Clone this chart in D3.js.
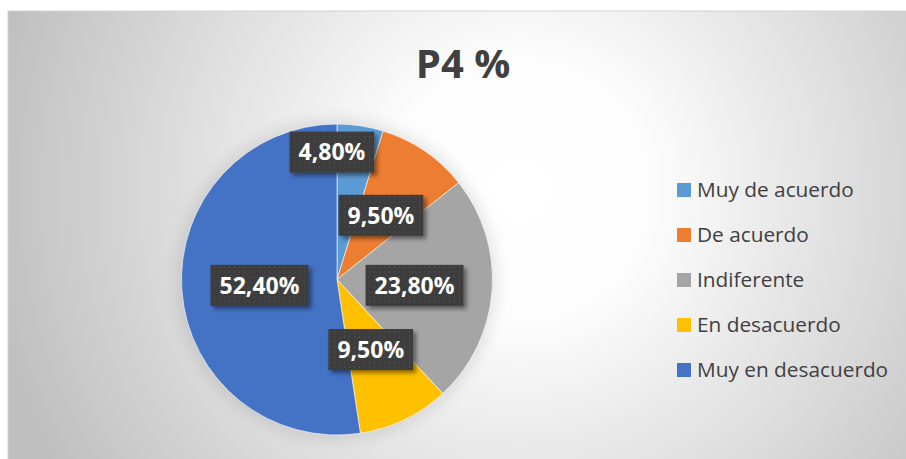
<!DOCTYPE html>
<html><head><meta charset="utf-8">
<script src="https://cdn.jsdelivr.net/npm/d3@7/dist/d3.min.js"></script>
<style>html,body{margin:0;padding:0;background:#fff;}svg{display:block;}</style>
</head><body>
<svg id="chart" width="906" height="459"></svg>
<script>
const title = "P4 %";
const categories = ["Muy de acuerdo", "De acuerdo", "Indiferente", "En desacuerdo", "Muy en desacuerdo"];
const values = [4.8, 9.5, 23.8, 9.5, 52.4];
const labels = ["4,80%", "9,50%", "23,80%", "9,50%", "52,40%"];
const colors = ["#5B9BD5", "#ED7D31", "#A5A5A5", "#FFC000", "#4472C4"];

const W = 906, H = 459;
const svg = d3.select("#chart");
const defs = svg.append("defs");

// panel background radial gradient
const rg = defs.append("radialGradient").attr("id", "bg")
  .attr("gradientUnits", "userSpaceOnUse")
  .attr("cx", 520).attr("cy", 190).attr("r", 540);
rg.append("stop").attr("offset", "0%").attr("stop-color", "#ffffff");
rg.append("stop").attr("offset", "25%").attr("stop-color", "#fcfcfc");
rg.append("stop").attr("offset", "100%").attr("stop-color", "#bfbfbf");

// dotted dark pattern for data labels
const pat = defs.append("pattern").attr("id", "dots")
  .attr("patternUnits", "userSpaceOnUse").attr("width", 5).attr("height", 5);
pat.append("rect").attr("width", 5).attr("height", 5).attr("fill", "#3d3d3d");
pat.append("rect").attr("x", 2).attr("y", 2).attr("width", 1).attr("height", 1).attr("fill", "#5a5a5a");

const sh = defs.append("filter").attr("id", "shadow")
  .attr("x", "-30%").attr("y", "-30%").attr("width", "160%").attr("height", "160%");
sh.append("feDropShadow").attr("dx", 3).attr("dy", 3).attr("stdDeviation", 2)
  .attr("flood-color", "#000").attr("flood-opacity", 0.45);

const glow = defs.append("filter").attr("id", "glow")
  .attr("x", "-20%").attr("y", "-20%").attr("width", "140%").attr("height", "140%");
glow.append("feGaussianBlur").attr("stdDeviation", 8);

// panel
svg.append("rect").attr("x", 8).attr("y", 11).attr("width", W).attr("height", H)
  .attr("fill", "url(#bg)").attr("stroke", "#d4d4d4").attr("stroke-width", 1);

// title
svg.append("text").attr("x", 463).attr("y", 78)
  .attr("text-anchor", "middle")
  .attr("font-family", "'Open Sans', 'Noto Sans', sans-serif")
  .attr("font-weight", 700).attr("font-size", 40)
  .attr("fill", "#404040").text(title);

// pie
const cx = 337, cy = 279.5, R = 155.5;
const pie = d3.pie().sort(null).value(d => d)(values);
const arc = d3.arc().innerRadius(0).outerRadius(R);
const g = svg.append("g").attr("transform", `translate(${cx},${cy})`);

g.append("circle").attr("r", R + 4).attr("fill", "#000").attr("opacity", 0.1)
  .attr("filter", "url(#glow)");

g.selectAll("path.slice").data(pie).join("path").attr("class", "slice")
  .attr("d", arc).attr("fill", (d, i) => colors[i])
  .attr("stroke", "#ffffff").attr("stroke-width", 0.6);

// labels
const fontSize = 23;
const boxes = [];
const labelG = g.append("g");
const tmp = labelG.append("text").attr("font-family", "'Open Sans', 'Noto Sans', sans-serif")
  .attr("font-weight", 700).attr("font-size", fontSize);
const measured = labels.map(t => { tmp.text(t); return tmp.node().getComputedTextLength(); });
tmp.remove();

function overlaps(a, b) {
  return a.x < b.x + b.w && b.x < a.x + a.w && a.y < b.y + b.h && b.y < a.y + a.h;
}
const order = pie.map((d, i) => i).sort((a, b) => values[b] - values[a]);
const placed = [];
order.forEach(i => {
  const d = pie[i];
  const w = measured[i] + 18, h = 41;
  let [x, y] = arc.centroid(d);
  let box = {x: x - w / 2, y: y - h / 2, w, h};
  if (placed.some(b => overlaps(b, box))) {
    // move the label out along the slice's start edge
    const a = d.startAngle - 0.04;
    x = Math.sin(a) * R * 0.82; y = -Math.cos(a) * R * 0.82;
    box = {x: x - w / 2, y: y - h / 2, w, h};
  }
  placed.push(box);
  boxes[i] = {x, y, w, h};
});

const lab = labelG.selectAll("g.lab").data(pie).join("g").attr("class", "lab");
lab.append("rect")
  .attr("x", (d, i) => boxes[i].x - boxes[i].w / 2)
  .attr("y", (d, i) => boxes[i].y - boxes[i].h / 2)
  .attr("width", (d, i) => boxes[i].w).attr("height", (d, i) => boxes[i].h)
  .attr("fill", "url(#dots)").attr("filter", "url(#shadow)");
lab.append("text")
  .attr("x", (d, i) => boxes[i].x).attr("y", (d, i) => boxes[i].y)
  .attr("dy", "0.36em").attr("text-anchor", "middle")
  .attr("font-family", "'Open Sans', 'Noto Sans', sans-serif")
  .attr("font-weight", 700).attr("font-size", fontSize)
  .attr("fill", "#ffffff").text((d, i) => labels[i]);

// legend
const legend = svg.append("g");
const ly = d3.scalePoint().domain(categories).range([190, 370]);
const items = legend.selectAll("g").data(categories).join("g")
  .attr("transform", d => `translate(677,${ly(d)})`);
items.append("rect").attr("x", 0).attr("y", -7).attr("width", 14).attr("height", 14)
  .attr("fill", (d, i) => colors[i]);
items.append("text").attr("x", 20).attr("y", 0).attr("dy", "0.35em")
  .attr("font-family", "'Open Sans', 'Noto Sans', sans-serif")
  .attr("font-size", 20.8).attr("fill", "#404040").text(d => d);
</script>
</body></html>
